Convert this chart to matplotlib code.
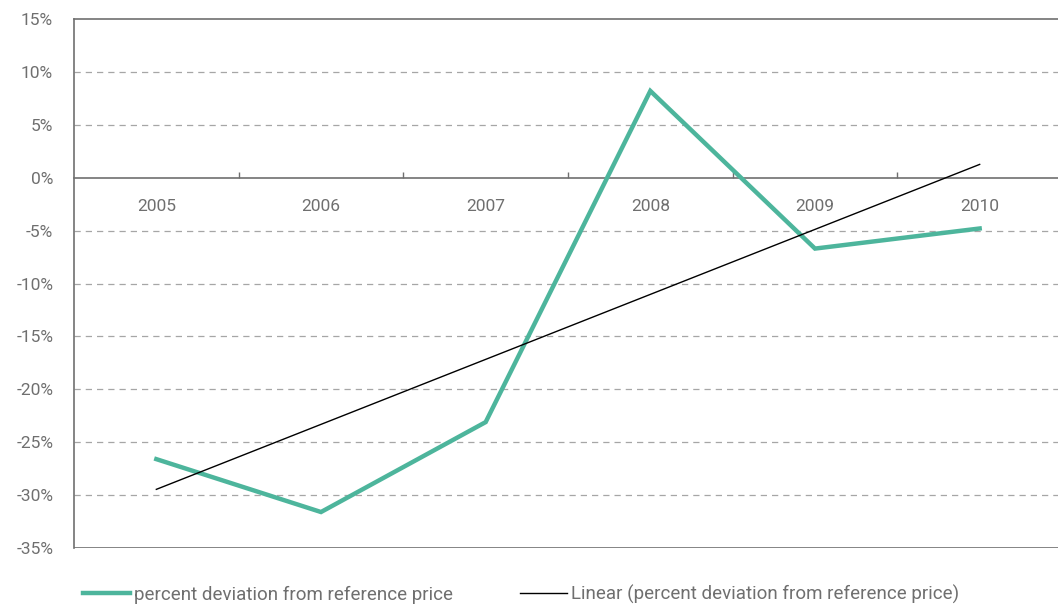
import numpy as np
import matplotlib.pyplot as plt
from matplotlib.lines import Line2D

years = ['2005', '2006', '2007', '2008', '2009', '2010']
deviation = [-26.6, -31.6, -23.1, 8.2, -6.7, -4.8]
y_ticks = [-35, -30, -25, -20, -15, -10, -5, 0, 5, 10, 15]
y_labels = ['{}%'.format(v) for v in y_ticks]

teal = '#4db59c'
grey = '#6f6f6f'
plt.rcParams['font.family'] = ['Roboto', 'DejaVu Sans']

fig = plt.figure(figsize=(10.58, 6.04), dpi=100)
ax = fig.add_axes([74 / 1058, 56 / 604, 988 / 1058, 529 / 604])

x = np.arange(len(years))
slope, intercept = np.polyfit(x, deviation, 1)
trend = slope * x + intercept

ax.plot(x, deviation, color=teal, lw=3.2, solid_joinstyle='miter', zorder=3)
ax.plot(x, trend, color='black', lw=1.0, zorder=4)

ax.set_xlim(-0.5, 5.5)
ax.set_ylim(-35, 15)

for v in y_ticks:
    if v not in (-35, 0, 15):
        ax.axhline(v, color='#a6a6a6', lw=0.9, ls=(0, (5, 4)), zorder=1)
ax.axhline(-35, color=grey, lw=1.2, zorder=2)

ax.spines['right'].set_visible(False)
ax.spines['top'].set_color(grey)
ax.spines['left'].set_color(grey)
ax.spines['bottom'].set_color(grey)
for s in ('top', 'left', 'bottom'):
    ax.spines[s].set_linewidth(1.2)
ax.spines['bottom'].set_position(('data', 0))

ax.set_yticks(y_ticks)
ax.set_yticklabels(y_labels)
ax.tick_params(axis='y', length=0, pad=15, labelsize=12.5, labelcolor=grey)

ax.set_xticks(x)
ax.set_xticklabels(years)
ax.set_xticks(x[:-1] + 0.5, minor=True)
ax.tick_params(axis='x', which='major', length=0, pad=15, labelsize=12.5, labelcolor=grey)
ax.tick_params(axis='x', which='minor', direction='in', length=4, width=1, color=grey)

handles = [Line2D([], [], color=teal, lw=3.2),
           Line2D([], [], color='black', lw=1.0)]
labels = ['percent deviation from reference price',
          'Linear (percent deviation from reference price)']
leg = fig.legend(handles, labels, loc='lower left', bbox_to_anchor=(66 / 1058, -0.028),
                 ncol=2, frameon=False, fontsize=13.5, handlelength=2.5,
                 handletextpad=0.2, columnspacing=3.6)
for t in leg.get_texts():
    t.set_color(grey)

fig.savefig('out.png', dpi=100)
